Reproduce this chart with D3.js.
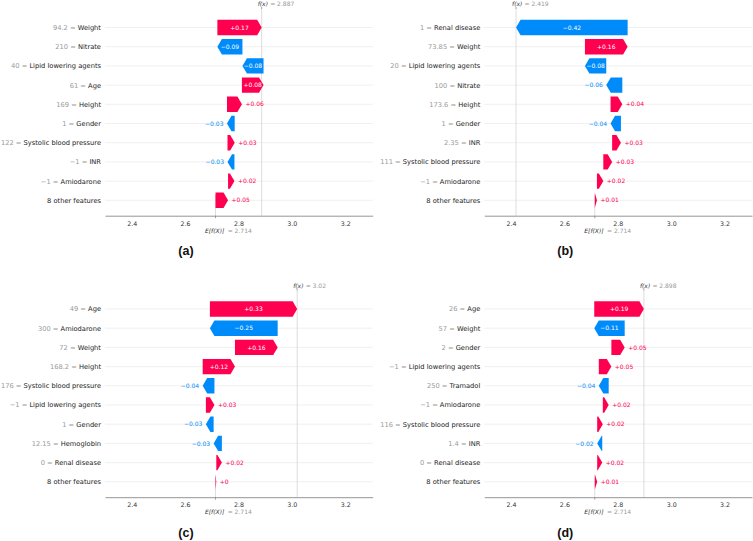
<!DOCTYPE html>
<html><head><meta charset="utf-8">
<script src="https://cdn.jsdelivr.net/npm/d3@7"></script>
<style>body{margin:0;background:#fff}svg{display:block}</style>
</head><body>
<svg id="chart" width="753" height="541"></svg>
<script>
// ---------- data ----------
const baseValue = 2.714;
const tickValues = [2.4, 2.6, 2.8, 3.0, 3.2];
const panelLabels = ["(a)", "(b)", "(c)", "(d)"];

const namesA = ["Weight", "Nitrate", "Lipid lowering agents", "Age", "Height", "Gender", "Systolic blood pressure", "INR", "Amiodarone", "8 other features"];
const featValsA = ["94.2", "210", "40", "61", "169", "1", "122", "\u22121", "\u22121", ""];
const shapA = [0.166, -0.094, -0.079, 0.081, 0.056, -0.029, 0.027, -0.026, 0.024, 0.047];
const fxA = 2.887;

const namesB = ["Renal disease", "Weight", "Lipid lowering agents", "Nitrate", "Height", "Gender", "INR", "Systolic blood pressure", "Amiodarone", "8 other features"];
const featValsB = ["1", "73.85", "20", "100", "173.6", "1", "2.35", "111", "\u22121", ""];
const shapB = [-0.418, 0.160, -0.080, -0.060, 0.044, -0.039, 0.033, 0.033, 0.024, 0.008];
const fxB = 2.419;

const namesC = ["Age", "Amiodarone", "Weight", "Height", "Systolic blood pressure", "Lipid lowering agents", "Gender", "Hemoglobin", "Renal disease", "8 other features"];
const featValsC = ["49", "300", "72", "168.2", "176", "\u22121", "1", "12.15", "0", ""];
const shapC = [0.327, -0.254, 0.160, 0.121, -0.044, 0.032, -0.029, -0.031, 0.021, 0.003];
const fxC = 3.02;

const namesD = ["Age", "Weight", "Gender", "Lipid lowering agents", "Tramadol", "Amiodarone", "Systolic blood pressure", "INR", "Renal disease", "8 other features"];
const featValsD = ["26", "57", "2", "\u22121", "250", "\u22121", "116", "1.4", "0", ""];
const shapD = [0.186, -0.114, 0.050, 0.047, -0.037, 0.022, 0.021, -0.019, 0.019, 0.009];
const fxD = 2.898;

// ---------- layout & style ----------
const RED = "#ff0051", BLUE = "#008bfb";
const FONT = "'DejaVu Sans', sans-serif";
const panelOffsets = [[0, 0], [379.3, 0], [0, 281.5], [379.3, 281.5]];
const labelY = [250.5, 250.5, 532.8, 532.8];

function fmtShap(v) {
  let s = (v >= 0 ? "+" : "") + v.toFixed(2);
  s = s.replace(/\.?0+$/, "");
  if (s[0] === "-") s = "\u2212" + s.slice(1);
  return s;
}

const svg = d3.select("#chart");

function drawPanel(idx, names, fvals, shaps, fx) {
  const [ox, oy] = panelOffsets[idx];
  const g = svg.append("g").attr("transform", `translate(${ox},${oy})`);
  const x = d3.scaleLinear().domain([2.3, 3.303]).range([105, 372.7]);
  const n = names.length;
  const y = d3.scalePoint().domain(d3.range(n)).range([27.5, 27.5 + (n - 1) * 19.2]);
  const axisY = 215.7, axTop = 9;
  const barH = 15.4;

  // grid lines
  g.append("g").selectAll("line").data(d3.range(n)).join("line")
    .attr("x1", 105).attr("x2", 372.7)
    .attr("y1", d => y(d)).attr("y2", d => y(d))
    .attr("stroke", "#e9e9e9").attr("stroke-width", 0.7);

  // vertical reference lines
  g.append("line").attr("x1", x(fx)).attr("x2", x(fx)).attr("y1", axTop).attr("y2", axisY)
    .attr("stroke", "#d4d4d4").attr("stroke-width", 0.8);
  g.append("line").attr("x1", x(baseValue)).attr("x2", x(baseValue)).attr("y1", axisY - (axisY - axTop) / n).attr("y2", axisY)
    .attr("stroke", "#d4d4d4").attr("stroke-width", 0.8);

  // waterfall bars
  const starts = new Array(n);
  let cum = baseValue;
  for (let i = n - 1; i >= 0; i--) { starts[i] = cum; cum += shaps[i]; }

  const bars = g.append("g");
  const texts = g.append("g");
  for (let i = 0; i < n; i++) {
    const v = shaps[i];
    const x0 = x(starts[i]), x1 = x(starts[i] + v);
    const dist = Math.abs(x1 - x0);
    const hl = Math.min(dist, 4.5);
    const yc = y(i), h = barH / 2;
    const sgn = v >= 0 ? 1 : -1;
    const col = v >= 0 ? RED : BLUE;
    const p = d3.path();
    p.moveTo(x0, yc - h);
    p.lineTo(x1 - sgn * hl, yc - h);
    p.lineTo(x1, yc);
    p.lineTo(x1 - sgn * hl, yc + h);
    p.lineTo(x0, yc + h);
    p.closePath();
    bars.append("path").attr("d", p.toString()).attr("fill", col);

    const t = texts.append("text")
      .attr("x", (x0 + x1) / 2).attr("y", yc).attr("dy", "0.36em")
      .attr("text-anchor", "middle")
      .attr("font-family", FONT).attr("font-size", 6)
      .attr("fill", "#fff").text(fmtShap(v));
    const tw = t.node().getComputedTextLength();
    if (tw + 1 > dist) {
      t.attr("x", x1 + sgn * 3.5)
        .attr("text-anchor", v >= 0 ? "start" : "end")
        .attr("fill", col);
    }
  }

  // feature labels
  for (let i = 0; i < n; i++) {
    const t = g.append("text").attr("x", 101).attr("y", y(i)).attr("dy", "0.36em")
      .attr("text-anchor", "end").attr("font-family", FONT).attr("font-size", 6.7);
    if (fvals[i] !== "") {
      t.append("tspan").attr("fill", "#999").text(fvals[i] + " = ");
    }
    t.append("tspan").attr("fill", "#222").text(names[i]);
  }

  // x axis
  const ax = g.append("g").attr("transform", `translate(0,${axisY})`)
    .call(d3.axisBottom(x).tickValues(tickValues).tickSize(0).tickSizeOuter(0).tickFormat(d3.format(".1f")));
  ax.select(".domain").attr("stroke", "#7a7a7a").attr("stroke-width", 0.8);
  ax.selectAll("text").attr("y", 7.6).attr("dy", "0.36em")
    .attr("font-family", FONT).attr("font-size", 6.3).attr("fill", "#333");

  // E[f(X)] tick & label
  g.append("line").attr("x1", x(baseValue)).attr("x2", x(baseValue)).attr("y1", axisY).attr("y2", axisY + 2.5)
    .attr("stroke", "#7a7a7a").attr("stroke-width", 0.7);
  g.append("text").attr("x", x(baseValue) - 10.5).attr("y", axisY + 15).attr("dy", "0.36em")
    .attr("font-family", FONT).attr("font-size", 6).attr("font-style", "italic").attr("fill", "#333")
    .text("E[f(X)]");
  g.append("text").attr("x", x(baseValue) + 12.2).attr("y", axisY + 15).attr("dy", "0.36em")
    .attr("font-family", FONT).attr("font-size", 6).attr("fill", "#999")
    .text("= " + baseValue.toFixed(3));

  // f(x) tick & label
  g.append("line").attr("x1", x(fx)).attr("x2", x(fx)).attr("y1", axTop - 2).attr("y2", axTop)
    .attr("stroke", "#7a7a7a").attr("stroke-width", 0.7);
  g.append("text").attr("x", x(fx) - 4).attr("y", 4.2).attr("dy", "0.36em")
    .attr("font-family", FONT).attr("font-size", 6).attr("font-style", "italic").attr("fill", "#333")
    .text("f(x)");
  g.append("text").attr("x", x(fx) + 8.5).attr("y", 4.2).attr("dy", "0.36em")
    .attr("font-family", FONT).attr("font-size", 6).attr("fill", "#999")
    .text("= " + String(fx));

  // panel label
  svg.append("text").attr("x", 186 + ox).attr("y", labelY[idx]).attr("dy", "0.36em")
    .attr("text-anchor", "middle").attr("font-family", "'Liberation Sans', Arial, sans-serif")
    .attr("font-weight", "bold").attr("font-size", 12.5).attr("fill", "#111")
    .text(panelLabels[idx]);
}

drawPanel(0, namesA, featValsA, shapA, fxA);
drawPanel(1, namesB, featValsB, shapB, fxB);
drawPanel(2, namesC, featValsC, shapC, fxC);
drawPanel(3, namesD, featValsD, shapD, fxD);
</script>
</body></html>
